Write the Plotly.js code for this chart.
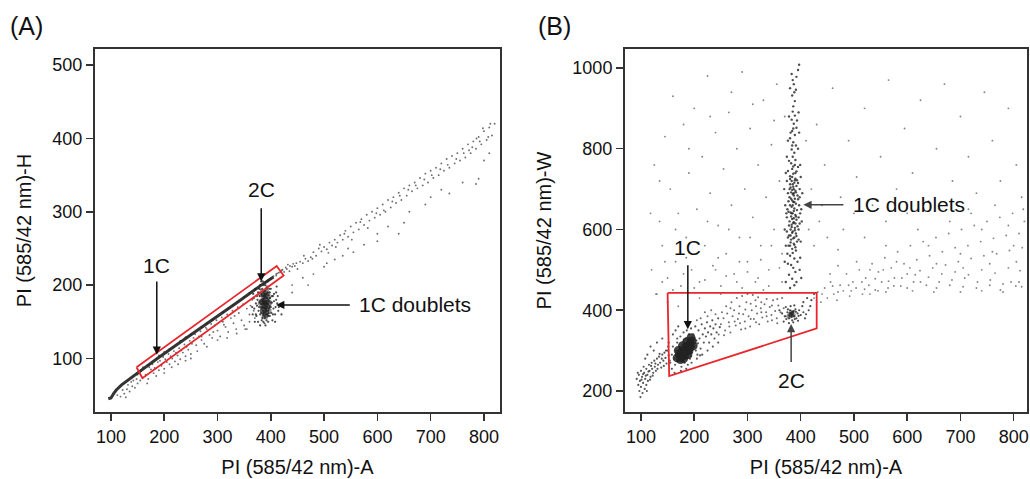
<!DOCTYPE html>
<html>
<head>
<meta charset="utf-8">
<script src="https://cdn.plot.ly/plotly-3.0.1.min.js"></script>
<style>html,body{margin:0;padding:0;background:#fff;}#chart{width:1030px;height:479px;}</style>
</head>
<body>
<div id="chart"></div>
<script>
// ---------- Panel A: PI-A vs PI-H ----------
var xTicks = [100, 200, 300, 400, 500, 600, 700, 800];
var aYTicks = [100, 200, 300, 400, 500];
var bYTicks = [200, 400, 600, 800, 1000];

// dense singlet ridge (population centre line)
var aRidgeX = [95, 100, 105, 110, 120, 140, 160, 185, 220, 260, 300, 340, 380, 405];
var aRidgeY = [45, 46, 52, 57, 64, 75, 85, 99, 117, 137, 158, 178, 199, 211];

// scattered events, panel A
var aDots = [
 [112,50],[118,48],[125,52],[130,58],[135,55],[140,62],[145,60],[128,47],[150,66],[148,72],[138,68],[122,57],[132,64],[142,70],[155,70],[160,74],
 [165,78],[170,72],[175,85],[180,80],[190,84],[195,90],[200,86],[205,95],[210,92],[215,100],[220,96],[225,104],[230,99],[235,108],[240,103],[245,112],[250,106],
 [178,92],[188,95],[198,102],[208,106],[218,110],[228,114],[238,119],[248,124],[172,88],[182,87],[192,97],[202,99],[212,103],[222,108],[232,111],[242,116],[252,120],
 [168,66],[185,76],[200,80],[214,88],[226,92],[240,97],[250,100],
 [255,128],[260,118],[265,130],[270,125],[275,120],[280,140],[285,132],[290,128],[295,145],[300,138],[305,130],[310,150],[315,143],[320,136],[325,155],[330,148],[335,140],[340,162],[345,152],[350,145],
 [258,133],[268,137],[278,142],[288,147],[298,152],[308,156],[318,160],[328,165],[338,170],[348,174],[262,110],[280,116],[300,125],[318,128],[336,134],[352,140],[270,130],[292,136],[312,146],[332,158],
 [355,168],[360,160],[365,180],[360,150],[370,155],[355,140],[362,172],[368,165],
 [150,78],[160,88],[170,91],[190,104],[200,109],[210,113],[230,124],[240,129],[250,133],[270,143],[280,148],[290,153],[310,163],[320,168],[330,173],[350,184],[360,189],[370,194],[390,204],[395,207],[400,209],[410,215],[415,217],[420,220],
 [405,212],[410,213],[412,216],[418,218],[422,221],[428,224],[436,226],[442,229],
 [425,218],[430,222],[435,219],[440,225],[445,226],[450,222],[455,232],[460,230],[465,236],[470,233],[475,238],[480,245],[485,240],[490,250],[495,246],[500,252],[505,249],[510,258],[515,254],[520,262],[525,258],[530,268],[535,262],[540,274],[545,266],[550,280],[555,272],[560,285],[565,276],[570,290],[575,282],[580,296],[585,288],[590,300],[595,292],[600,305],[605,296],[610,310],[615,300],[620,316],[625,306],[630,320],[635,312],[640,326],[645,316],[650,332],[655,322],[660,336],[665,328],[670,340],[675,332],[680,346],[685,336],[690,352],[695,340],[700,356],[705,346],[710,360],[715,350],[720,366],[725,356],[730,372],[735,360],[740,376],[745,366],[750,380],[755,370],[760,386],[765,374],[770,392],[775,380],[780,396],[785,386],[790,402],[795,392],[800,410],[805,398],[810,415],[815,404],[820,420],
 [432,228],[448,230],[462,240],[478,236],[492,255],[508,244],[522,252],[538,270],[552,262],[568,286],[582,278],[598,298],[612,302],[628,314],[642,322],[658,330],[672,336],[688,344],[702,350],[718,358],[732,364],[748,372],[762,380],[778,388],[792,396],[808,402],[812,420],[798,414],[786,400],[772,384],
 [440,200],[460,210],[480,215],[500,225],[520,235],[535,240],[555,245],[575,255],[600,270],[620,280],[640,270],[660,300],[690,310],[700,320],[720,330],[735,325],[760,340],[785,338],[790,345],[800,370],[810,380],[440,190],[470,200],[505,230],[545,250],[650,285],[600,260]
];

// 1C doublet cluster, panel A
var aDoublets = [
 [385,175],[390,170],[395,180],[388,185],[392,165],[380,178],[398,172],[386,160],[394,190],[383,168],[391,178],[387,182],[396,168],[382,188],[399,183],[389,155],[393,160],[384,195],[378,170],[402,176],[390,200],[386,150],[395,150],[375,180],[405,168],[380,160],[397,195],[388,192],[392,188],[384,178],[389,173],[393,175],[386,170],[391,183],[379,185],[401,162],[385,205],[394,205],[377,165],[404,185],[390,145],[383,152],[398,158],[387,163],[392,197],[381,194],[396,186],[389,168],[384,186],[393,170],[388,177],[395,174],[386,181],[391,160],[382,174],[397,178],[380,200],[400,195],[376,190],[410,180],[408,160],[372,175],[415,170],[420,160],
 [372,160],[374,185],[376,150],[378,195],[380,145],[382,205],[384,155],[386,190],[388,148],[390,185],[392,152],[394,198],[396,162],[398,190],[400,170],[402,185],[404,160],[406,178],[381,170],[383,180],[385,165],[387,175],[389,188],[391,168],[393,182],[395,158],[397,170],[399,176],[379,176],[385,185],[392,175],[388,158],[384,170],[390,192],[395,165],[386,178],[393,195],[382,162],[398,182],[387,200],
 [365,170],[368,182],[370,150],[412,175],[414,165],[410,190],[366,160],[408,150],[371,195],[411,198],[367,188],[413,185],[369,168],[409,170],[374,172],[406,188],[373,158],[403,152]
];
var aDoubletCore = [[388,172],[391,180],[386,166],[393,186],[389,176],[390,160],[386,165],[390,175],[388,185],[392,168],[385,178],[391,190],[389,158],[382,176],[396,176],[383,188],[395,165]];

// singlet gate, panel A
var gateAX = [148, 159, 424, 411, 148];
var gateAY = [88, 73, 213, 226, 88];

// ---------- Panel B: PI-A vs PI-W ----------
var bTail = [
 [92,230],[95,215],[96,240],[98,225],[100,210],[100,250],[102,235],[103,195],[104,220],[105,260],[106,245],[107,205],[108,230],[110,215],[110,255],[112,240],[113,225],[115,265],[116,250],[118,235],[120,270],[121,255],[123,245],[125,275],[126,260],[128,250],[130,280],[132,265],[134,285],[136,270],[138,258],[140,290],[142,275],[144,295],[146,282],[148,268],[150,300],[152,288],[154,275],
 [94,245],[97,200],[99,185],[101,228],[104,242],[109,238],[111,200],[114,248],[117,228],[119,262],[122,238],[127,268],[131,255],[135,292],[139,280],[143,262],[147,300],[151,310],[124,300],[118,310],[130,320],[112,290],[140,330],[108,280]
];
var b1C = [
 [155,270],[158,290],[160,310],[162,280],[164,265],[166,300],[168,320],[170,275],[172,295],[174,335],[176,260],[178,315],[180,345],[182,270],[184,330],[186,350],[188,265],[190,340],[192,280],[194,355],[196,295],[198,340],[200,310],[202,360],[204,325],[206,290],[208,350],[210,330],[212,305],[214,365],[216,340],[218,320],[220,355],[222,335],[224,370],[226,345],[228,320],[230,360],[232,340],[234,375],[236,355],[238,330],[240,365],[242,345],[245,380],[248,358],
 [160,340],[165,350],[170,360],[175,250],[185,255],[195,270],[205,280],[215,290],[225,300],[235,310],[245,320],[152,320],[158,255],[163,245],[168,330],[173,310],[177,280],[183,318],[187,282],[191,322],[197,308],[203,300],[207,318],[211,288],[169,288],[179,276],[189,296],[199,326],[194,286],[176,306],[181,326],[171,298]
];
var b1CCore = [[168,282],[172,290],[176,296],[180,300],[184,306],[188,312],[192,318],[196,324],[174,278],[182,288],[190,300],[198,312],[170,300],[178,312],[186,322],[194,332],[180,280],[188,290],[186,300],[178,292],[192,308]];
var bBridge = [
 [250,365],[255,380],[258,350],[262,392],[265,370],[268,345],[272,385],[275,400],[278,362],[282,378],[285,410],[288,352],[292,390],[295,372],[298,420],[302,385],[305,360],[308,400],[312,378],[315,425],[318,392],[322,365],[325,405],[328,382],[332,415],[335,395],[338,372],[342,408],[345,388],[348,425],[352,398],[355,380],[358,412],[362,395],[365,430],[368,405],[372,385],
 [260,410],[270,420],[280,430],[290,435],[300,440],[310,438],[320,432],[252,395],[268,405],[284,392],[296,402],[306,416],[316,410],[326,420],[336,428],[346,412],[356,428],[246,340],[256,338],[266,360],[276,372],[286,368],[296,355],[306,378],[316,370],[326,395],[336,385],[346,375],[356,368],[240,390],[232,400],[225,385],[220,395],[212,380],[205,375]
];
var b2C = [
 [370,385],[375,395],[378,380],[380,400],[382,388],[384,375],[386,395],[388,385],[390,402],[392,380],[394,392],[396,386],[380,392],[385,390],[383,383],[387,398],[379,386],[389,378],[376,402],[391,396],[373,378],[397,400],[381,410],[386,370],[365,392],[400,388],[372,408],[395,374],[378,368],[388,412],[405,395],[360,400],[410,390],[403,410],[368,372],[384,396],[382,393],[386,386],
 [405,420],[412,430],[418,410],[425,440],[415,400],[420,425],[408,380]
];
var b2CCore = [[380,390],[386,388],[383,395],[378,385]];
var bDoublets = [
 [380,455],[388,462],[392,470],[384,478],[378,488],[390,495],[386,505],[382,512],[394,520],[388,528],[380,535],[385,542],[391,548],[376,515],[398,500],[372,470],
 [384,552],[390,556],[380,560],[387,565],[393,570],[382,575],[388,580],[378,585],[391,590],[385,595],[381,600],[389,604],[394,608],[383,612],[386,616],[379,620],[392,624],[387,628],[382,632],[390,636],[385,640],[377,644],[393,648],[388,652],[383,656],[380,660],[391,664],[386,668],[384,672],[389,676],[379,680],[394,684],[385,688],[382,692],[390,696],[387,700],[381,704],[392,708],[385,712],[388,716],[383,720],[390,726],[380,732],[386,738],[392,744],[384,750],
 [388,562],[381,568],[386,578],[392,584],[384,592],[389,598],[383,606],[387,618],[384,626],[391,632],[381,642],[387,646],[385,660],[388,668],[382,676],[387,684],[391,692],[384,698],[386,706],[380,712],[389,722],[384,730],[390,740],[378,610],[396,630],[375,650],[397,660],[376,690],[398,700],[374,720],[395,715],[396,575],[374,595],[373,640],[399,640],[377,560],[398,680],
 [386,756],[382,764],[390,772],[385,780],[388,790],[383,798],[391,808],[386,816],[380,826],[389,834],[384,844],[392,852],[387,862],[383,872],[389,882],[385,892],[378,770],[395,800],[381,840],[393,870],
 [386,905],[389,918],[384,932],[391,946],[387,960],[392,978],[395,995],[397,1008],[380,950],[383,985],
 [372,560],[400,570],[370,600],[402,620],[371,660],[401,650],[369,700],[403,690],[372,740],[400,730],[374,780],[399,760],[376,820],[397,840],[378,880],[396,890],[375,540],[399,530],[370,520],[401,480],[376,580],[396,600],[374,630],[398,615],[377,670],[395,675],[379,700],[393,722],[376,745],[395,755],[381,585],[390,615],[383,640],[387,690],[380,725],[389,760],[384,808],[386,850],[388,940],[385,970]
];
var bRight = [
 [425,430],[432,445],[438,420],[445,455],[450,430],[456,470],[462,440],[468,425],[474,462],[480,448],[486,490],[492,435],[498,470],[504,455],[510,500],[516,440],[522,480],[528,462],[534,515],[540,450],[546,495],[552,470],[558,530],[564,455],[570,505],[576,480],[582,545],[588,460],[594,515],[600,490],[606,560],[612,470],[618,525],[624,498],[630,570],[636,462],[642,535],[648,505],[654,580],[660,470],[666,545],[672,512],[678,590],[684,475],[690,555],[696,520],[702,600],[708,480],[714,560],[720,528],[726,610],[732,470],[738,570],[744,535],[750,620],[756,475],[762,578],[768,540],[774,630],[780,465],[786,585],[792,548],[798,640],[804,460],[810,590],[816,555],[820,620],
 [440,440],[470,445],[495,448],[520,452],[545,448],[575,460],[600,455],[625,470],[655,455],[680,462],[705,458],[730,455],[755,462],[775,450],[795,470],[815,458],[460,460],[490,462],[515,470],[540,478],[565,472],[590,480],[615,488],[640,482],[665,490],[690,495],[715,488],[740,500],[765,492],[790,505],[812,498],[530,440],[560,445],[610,448],[650,445],[700,445],[740,448],[780,445],[810,470],
 [455,490],[505,520],[555,500],[605,505],[655,515],[705,505],[755,515],[805,520],[470,510],[530,500],[580,520],[640,560],[700,540],[760,545],[800,560],[620,600],[680,620],[740,600],[790,610],[818,650],[765,660],[715,650]
];
var bSparse = [
 [120,500],[125,760],[130,440],[135,620],[140,560],[145,830],[150,480],[155,700],[160,930],[165,520],[170,640],[175,460],[180,860],[185,580],[190,740],[195,500],[200,900],[205,650],[210,470],[215,780],[220,560],[225,980],[230,690],[235,510],[240,840],[245,610],[250,460],[255,750],[260,540],[265,890],[270,660],[275,490],[280,800],[285,580],[290,990],[295,700],[300,520],[305,850],[310,630],[315,470],[320,760],[325,560],[330,920],[335,680],[340,500],[345,810],[350,600],[355,960],[360,720],[365,540],[370,880],
 [140,470],[160,450],[180,490],[200,455],[220,475],[240,500],[260,485],[280,470],[300,495],[320,480],[340,460],[360,505],[165,600],[205,540],[245,530],[285,520],[325,525],[365,470],[145,520],[185,530],[225,620],[265,600],[305,580],[345,560],[118,640],[135,720],[190,800],[230,880],[270,940],[310,910],[350,870],[128,440],[150,420],[170,410],[210,430],[250,440],[290,455],[330,450],
 [420,700],[430,860],[445,760],[460,950],[475,680],[490,820],[505,730],[520,900],[535,660],[550,780],[565,970],[580,700],[595,850],[610,740],[625,920],[640,670],[655,800],[670,960],[685,720],[700,880],[715,780],[730,690],[745,940],[760,820],[775,720],[790,900],[805,760],[815,680],[440,660],[500,640],[560,620],[410,820],[415,600],[425,560],[435,620],[450,580],[470,550],[480,600],[520,580],[560,560],[600,640],[720,640],[660,660]
];

// singlet gate, panel B
var gateBX = [150, 430, 430, 153, 150];
var gateBY = [443, 443, 355, 237, 443];

// ---------- build ----------
function xs(a){return a.map(function(p){return p[0];});}
function ys(a){return a.map(function(p){return p[1];});}
var FONT = 'Liberation Sans, Arial, Helvetica, sans-serif';
var dotC = '#222';
var gateC = '#e8262b';

function dots(arr, xa, ya, size, op){
  return {type:'scatter', mode:'markers', x:xs(arr), y:ys(arr), xaxis:xa, yaxis:ya,
    marker:{size:size, color:dotC, opacity:op, line:{width:0}}, hoverinfo:'skip', showlegend:false};
}

var traces = [
  {type:'scatter', mode:'lines', x:aRidgeX, y:aRidgeY, xaxis:'x', yaxis:'y',
   line:{color:'#111', width:3}, opacity:0.85, hoverinfo:'skip', showlegend:false},
  dots(aDots, 'x', 'y', 1.9, 0.65),
  dots(aDoublets, 'x', 'y', 2.2, 0.8),
  dots(aDoubletCore, 'x', 'y', 7, 0.45),
  {type:'scatter', mode:'lines', x:gateAX, y:gateAY, xaxis:'x', yaxis:'y',
   line:{color:gateC, width:1.8}, hoverinfo:'skip', showlegend:false},

  dots(bSparse, 'x2', 'y2', 1.9, 0.55),
  dots(bRight, 'x2', 'y2', 1.9, 0.55),
  dots(bTail, 'x2', 'y2', 2.2, 0.75),
  dots(b1C, 'x2', 'y2', 2.2, 0.75),
  dots(bBridge, 'x2', 'y2', 2, 0.65),
  dots(b2C, 'x2', 'y2', 2.2, 0.8),
  dots(bDoublets, 'x2', 'y2', 2.4, 0.8),
  dots(b1CCore, 'x2', 'y2', 9, 0.85),
  dots(b2CCore, 'x2', 'y2', 5, 0.45),
  {type:'scatter', mode:'lines', x:gateBX, y:gateBY, xaxis:'x2', yaxis:'y2',
   line:{color:gateC, width:1.8}, hoverinfo:'skip', showlegend:false}
];

function axis(domain, range, ticks, title, anchor, standoff){
  return {domain:domain, range:range, tickvals:ticks, ticktext:ticks.map(String), anchor:anchor,
    showline:true, mirror:true, linecolor:'#333', linewidth:2, showgrid:false, zeroline:false,
    ticks:'outside', ticklen:7, tickwidth:1.5, tickcolor:'#333',
    tickfont:{family:FONT, size:18, color:'#111'},
    title:{text:title, font:{family:FONT, size:20, color:'#111'}, standoff:standoff},
    automargin:false, fixedrange:true};
}

var arrowA = '#111', arrowB = '#444';
function txt(xr, yr, x, y, t){
  return {xref:xr, yref:yr, x:x, y:y, text:t, showarrow:false,
    font:{family:FONT, size:21, color:'#111'}, xanchor:'center', yanchor:'middle'};
}
function arr(xr, yr, x, y, ax, ay, c){
  return {xref:xr, yref:yr, x:x, y:y, axref:xr, ayref:yr, ax:ax, ay:ay, text:'', showarrow:true,
    arrowhead:2, arrowsize:1.1, arrowwidth:1.5, arrowcolor:c};
}

var layout = {
  width:1030, height:479, margin:{l:0, r:0, t:0, b:0},
  paper_bgcolor:'#fff', plot_bgcolor:'#fff', showlegend:false,
  font:{family:FONT, color:'#111'},
  xaxis: axis([0.0922, 0.4854], [70, 830], xTicks, 'PI (585/42 nm)-A', 'y', 14),
  yaxis: axis([0.1399, 0.8977], [27, 522], aYTicks, 'PI (585/42 nm)-H', 'x', 15),
  xaxis2: axis([0.6068, 0.9971], [70, 825], xTicks, 'PI (585/42 nm)-A', 'y2', 14),
  yaxis2: axis([0.1399, 0.8977], [148, 1047], bYTicks, 'PI (585/42 nm)-W', 'x2', 15),
  annotations: [
    {xref:'paper', yref:'paper', x:8/1030, y:1-26/479, text:'(A)', showarrow:false, xanchor:'left', yanchor:'middle', font:{family:FONT, size:25, color:'#111'}},
    {xref:'paper', yref:'paper', x:536/1030, y:1-26/479, text:'(B)', showarrow:false, xanchor:'left', yanchor:'middle', font:{family:FONT, size:25, color:'#111'}},
    txt('x','y',186,227,'1C'), arr('x','y',186,105,186,207,arrowA),
    txt('x','y',382,330,'2C'), arr('x','y',382,205,382,307,arrowA),
    {xref:'x', yref:'y', x:561, y:173, text:'1C doublets', showarrow:false, xanchor:'left', yanchor:'middle', font:{family:FONT, size:21, color:'#111'}},
    arr('x','y',410,173,551,173,arrowA),
    txt('x2','y2',188,556,'1C'), arr('x2','y2',188,353,188,515,'#111'),
    txt('x2','y2',383,225,'2C'), arr('x2','y2',382,366,382,268,arrowB),
    {xref:'x2', yref:'y2', x:494, y:663, text:'1C doublets', showarrow:false, xanchor:'left', yanchor:'middle', font:{family:FONT, size:21, color:'#111'}},
    arr('x2','y2',405,661,483,661,arrowB)
  ]
};

Plotly.newPlot('chart', traces, layout, {staticPlot:true, displayModeBar:false});
</script>
</body>
</html>
